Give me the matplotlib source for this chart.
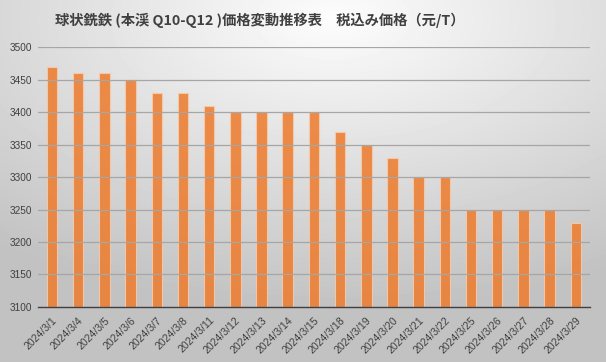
import numpy as np
import matplotlib.pyplot as plt

plt.rcParams['font.family'] = ['Noto Sans CJK JP', 'DejaVu Sans']

dates = ['2024/3/1', '2024/3/4', '2024/3/5', '2024/3/6', '2024/3/7', '2024/3/8',
         '2024/3/11', '2024/3/12', '2024/3/13', '2024/3/14', '2024/3/15',
         '2024/3/18', '2024/3/19', '2024/3/20', '2024/3/21', '2024/3/22',
         '2024/3/25', '2024/3/26', '2024/3/27', '2024/3/28', '2024/3/29']
prices = [3470, 3460, 3460, 3450, 3430, 3430, 3410, 3400, 3400, 3400, 3400,
          3370, 3350, 3330, 3300, 3300, 3250, 3250, 3250, 3250, 3230]
title = '球状銑鉄 (本渓 Q10-Q12 )価格変動推移表　税込み価格（元/T）'

fig = plt.figure(figsize=(6.06, 3.62), dpi=100)

# radial gradient background
bg = fig.add_axes([0, 0, 1, 1], zorder=0)
yy, xx = np.mgrid[0:1:362j, 0:1:606j]
r = np.sqrt(((xx - 0.55) * 1.0) ** 2 + ((yy - 0.05) * 1.1) ** 2)
shade = np.clip(0.99 - 0.26 * r, 0.76, 1.0)
bg.imshow(shade, cmap='gray', vmin=0, vmax=1, aspect='auto', extent=[0, 1, 1, 0])
bg.axis('off')

ax = fig.add_axes([0.062, 0.152, 0.912, 0.718], zorder=1)
ax.patch.set_alpha(0)
x = np.arange(len(dates))
ax.bar(x, prices, width=0.4, color='#ED7D31', alpha=0.88,
       edgecolor='#F8CBAD', linewidth=0.8, zorder=2)
ax.set_ylim(3100, 3500)
ax.set_yticks(np.arange(3100, 3501, 50))
ax.set_xlim(-0.55, len(dates) - 0.45)
ax.set_xticks(x)
ax.set_xticklabels(dates, rotation=45, ha='right', rotation_mode='anchor',
                   fontsize=7.6, family=['Liberation Sans', 'DejaVu Sans'])
for lbl in ax.get_yticklabels():
    lbl.set_family(['Liberation Sans', 'DejaVu Sans'])
    lbl.set_fontsize(7.2)
ax.grid(axis='y', color='#A6A6A6', linewidth=0.9, zorder=3)
ax.set_axisbelow(False)
for s in ['top', 'right', 'left']:
    ax.spines[s].set_visible(False)
ax.spines['bottom'].set_color('#404040')
ax.spines['bottom'].set_linewidth(1.0)
ax.tick_params(axis='y', length=0, colors='#404040', pad=4)
ax.tick_params(axis='x', length=0, colors='#404040', pad=6)

fig.text(0.428, 0.945, title, ha='center', va='center', fontsize=10.3,
         fontweight='bold', color='#404040')

fig.savefig('out.png', dpi=100)
